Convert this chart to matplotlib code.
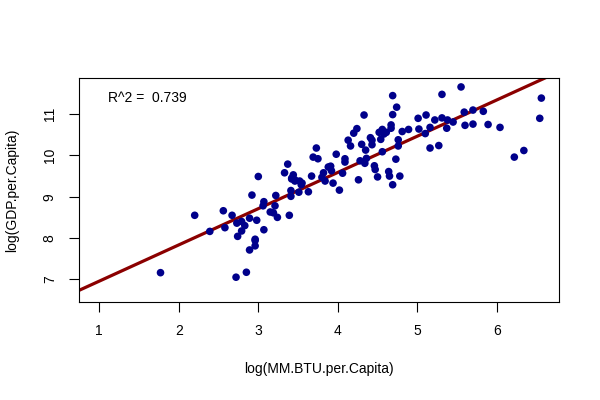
import numpy as np
import matplotlib
matplotlib.use("Agg")
import matplotlib.pyplot as plt

plt.rcParams['font.family'] = ['Liberation Sans', 'DejaVu Sans']

# log(MM.BTU.per.Capita)
log_btu = [
    1.77, 2.20, 2.39, 2.56, 2.58, 2.67, 2.72, 2.74, 2.73, 2.79,
    2.79, 2.83, 2.85, 2.89, 2.89, 2.96, 2.96, 2.98, 3.00, 2.92,
    3.07, 3.07, 3.06, 3.15, 3.19, 3.21, 3.22, 3.24, 3.39, 3.41,
    3.41, 3.33, 3.37, 3.42, 3.44, 3.46, 3.51, 3.52, 3.54, 3.63,
    3.67, 3.69, 3.73, 3.75, 3.42, 3.46, 3.55, 2.96,
    3.80, 3.82, 3.84, 3.88, 3.91, 3.92, 3.94, 3.98, 4.02, 4.06,
    4.09, 4.09, 4.13, 4.16, 4.20, 4.24, 4.26, 4.28, 4.30, 4.33,
    4.34, 4.35, 4.36, 4.41, 4.43, 4.43, 4.46, 4.47, 4.50, 4.52,
    4.54, 4.56, 4.58, 4.56, 4.61, 4.64, 4.65, 4.67, 4.67, 4.69,
    4.69, 4.69, 4.73, 4.74, 4.76, 4.76, 4.78, 4.81, 4.89, 5.01,
    5.02, 5.10, 5.11, 5.16, 5.16, 5.22, 5.27, 5.31, 5.31, 5.37,
    5.38, 5.45, 5.55, 5.59, 5.60, 5.70, 5.70, 5.83, 5.89, 6.04,
    6.22, 6.34, 6.54, 6.56,
]
# log(GDP.per.Capita)
log_gdp = [
    7.16, 8.55, 8.16, 8.66, 8.25, 8.55, 7.05, 8.04, 8.36, 8.40,
    8.17, 8.30, 7.17, 8.48, 7.71, 7.94, 7.81, 8.43, 9.49, 9.04,
    8.20, 8.88, 8.78, 8.63, 8.61, 8.78, 9.03, 8.50, 8.55, 9.01,
    9.15, 9.58, 9.79, 9.43, 9.53, 9.38, 9.11, 9.38, 9.29, 9.12,
    9.50, 9.96, 10.18, 9.92, 9.45, 9.41, 9.33, 7.97,
    9.47, 9.58, 9.38, 9.72, 9.74, 9.63, 9.33, 10.03, 9.16, 9.57,
    9.92, 9.84, 10.37, 10.23, 10.54, 10.65, 9.41, 9.87, 10.27, 10.98,
    9.81, 10.13, 9.93, 10.43, 10.37, 10.26, 9.75, 9.66, 9.48, 10.56,
    10.39, 10.63, 10.52, 10.09, 10.56, 9.61, 9.50, 10.74, 10.66, 11.45,
    10.99, 9.29, 9.91, 11.17, 10.38, 10.23, 9.50, 10.58, 10.63, 10.90,
    10.64, 10.53, 10.98, 10.68, 10.18, 10.86, 10.24, 11.48, 10.91, 10.66,
    10.86, 10.81, 11.66, 11.05, 10.73, 10.76, 11.10, 11.07, 10.75, 10.68,
    9.96, 10.12, 10.90, 11.39,
]

# fitted line lm(log_gdp ~ log_btu)
intercept = 6.077
slope = 0.878
r_squared = 0.739

fig = plt.figure(figsize=(6, 4), dpi=100)
ax = fig.add_axes([0.1317, 0.2458, 0.8005, 0.5585])

ax.scatter(log_btu, log_gdp, s=30, color="#00008B", edgecolors="none", zorder=3)
ax.axline((0, intercept), slope=slope, color="#8B0000", linewidth=2.3, zorder=2)

ax.set_xlim(0.745, 6.786)
ax.set_ylim(6.457, 11.87)
ax.set_xticks([1, 2, 3, 4, 5, 6])
ax.set_yticks([7, 8, 9, 10, 11])
ax.set_yticklabels(["7", "8", "9", "10", "11"], rotation=90, va="center")
ax.tick_params(axis="both", direction="out", length=7, width=0.8, labelsize=10, pad=9)

for s in ax.spines.values():
    s.set_linewidth(0.8)
    s.set_color("black")

ax.text(1.11, 11.40, "R^2 =  " + str(r_squared), fontsize=10, ha="left", va="center")

ax.set_xlabel("log(MM.BTU.per.Capita)", fontsize=10, labelpad=17)
ax.set_ylabel("log(GDP.per.Capita)", fontsize=10, labelpad=17)

fig.savefig("out.png", dpi=100)
